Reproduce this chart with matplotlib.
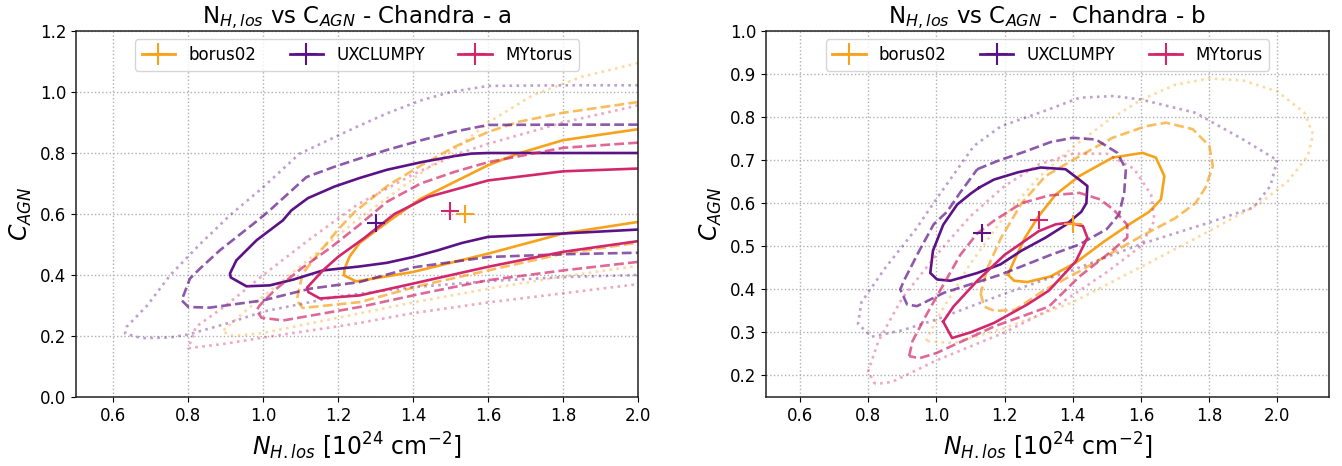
import matplotlib
matplotlib.use("Agg")
import matplotlib.pyplot as plt
from matplotlib.lines import Line2D

# ---------------------------------------------------------------------------
# Model names, colours and best-fit points
# ---------------------------------------------------------------------------
MODELS = ["borus02", "UXCLUMPY", "MYtorus"]
COLORS = {"borus02": "#F7A21B", "UXCLUMPY": "#5C1287", "MYtorus": "#D2286B"}

BEST_A = {"borus02": (1.537, 0.600), "UXCLUMPY": (1.300, 0.570), "MYtorus": (1.497, 0.610)}
BEST_B = {"borus02": (1.400, 0.552), "UXCLUMPY": (1.135, 0.530), "MYtorus": (1.300, 0.560)}

# ---------------------------------------------------------------------------
# Confidence contours (N_H,los, C_AGN), panel a: 1, 2, 3 sigma
# ---------------------------------------------------------------------------
A_UX_1 = [(2.0, 0.800), (1.8, 0.800), (1.6, 0.800), (1.555, 0.798), (1.511, 0.790),
          (1.422, 0.770), (1.33, 0.745), (1.257, 0.718), (1.19, 0.690), (1.119, 0.652),
          (1.075, 0.612), (1.052, 0.579), (0.982, 0.514), (0.928, 0.448), (0.911, 0.405),
          (0.913, 0.392), (0.955, 0.363), (1.017, 0.366), (1.08, 0.385), (1.159, 0.415),
          (1.257, 0.428), (1.33, 0.440), (1.40, 0.459), (1.466, 0.481), (1.53, 0.505),
          (1.6, 0.525), (1.8, 0.536), (2.0, 0.549)]
A_UX_2 = [(2.0, 0.893), (1.8, 0.893), (1.6, 0.892), (1.51, 0.870), (1.422, 0.842),
          (1.33, 0.810), (1.257, 0.782), (1.19, 0.755), (1.115, 0.721), (1.017, 0.612),
          (0.985, 0.579), (0.884, 0.481), (0.83, 0.420), (0.804, 0.388), (0.782, 0.317),
          (0.80, 0.295), (0.857, 0.293), (1.0, 0.317), (1.124, 0.355), (1.257, 0.377),
          (1.4, 0.425), (1.6, 0.459), (1.8, 0.468), (2.0, 0.473)]
A_UX_3 = [(2.0, 1.022), (1.8, 1.022), (1.6, 1.020), (1.5, 1.000), (1.422, 0.973),
          (1.33, 0.930), (1.248, 0.885), (1.17, 0.840), (1.097, 0.798), (0.995, 0.683),
          (0.911, 0.596), (0.83, 0.500), (0.751, 0.399), (0.69, 0.300), (0.635, 0.230),
          (0.631, 0.208), (0.675, 0.193), (0.75, 0.195), (0.80, 0.205), (0.90, 0.240),
          (1.0, 0.280), (1.2, 0.330), (1.4, 0.360), (1.6, 0.380), (1.8, 0.393), (2.0, 0.400)]

A_BO_1 = [(2.0, 0.878), (1.8, 0.842), (1.68, 0.798), (1.6, 0.760), (1.51, 0.705),
          (1.42, 0.650), (1.35, 0.590), (1.30, 0.545), (1.257, 0.505), (1.23, 0.460),
          (1.217, 0.421), (1.215, 0.399), (1.248, 0.379), (1.4, 0.410), (1.6, 0.470),
          (1.8, 0.536), (2.0, 0.574)]
A_BO_2 = [(2.0, 0.967), (1.8, 0.932), (1.68, 0.902), (1.6, 0.869), (1.51, 0.820),
          (1.422, 0.760), (1.333, 0.694), (1.244, 0.607), (1.20, 0.550), (1.15, 0.475),
          (1.105, 0.405), (1.089, 0.317), (1.105, 0.292), (1.257, 0.311), (1.422, 0.366),
          (1.6, 0.415), (1.8, 0.470), (2.0, 0.506)]
A_BO_3 = [(2.0, 1.095), (1.85, 1.050), (1.72, 0.990), (1.6, 0.900), (1.53, 0.830),
          (1.45, 0.760), (1.35, 0.670), (1.25, 0.580), (1.15, 0.480), (1.05, 0.380),
          (0.95, 0.280), (0.89, 0.215), (0.92, 0.200), (1.0, 0.210), (1.2, 0.260),
          (1.4, 0.310), (1.6, 0.355), (1.8, 0.395), (2.0, 0.430)]

A_MY_1 = [(2.0, 0.749), (1.8, 0.740), (1.6, 0.710), (1.44, 0.656), (1.35, 0.600),
          (1.268, 0.520), (1.2, 0.460), (1.159, 0.415), (1.117, 0.359), (1.12, 0.344),
          (1.151, 0.323), (1.257, 0.333), (1.4, 0.372), (1.6, 0.427), (1.8, 0.476),
          (2.0, 0.511)]
A_MY_2 = [(2.0, 0.834), (1.8, 0.817), (1.6, 0.770), (1.51, 0.738), (1.42, 0.700),
          (1.33, 0.640), (1.257, 0.565), (1.18, 0.490), (1.10, 0.420), (1.03, 0.350),
          (0.99, 0.300), (0.982, 0.284), (0.995, 0.260), (1.053, 0.251), (1.257, 0.295),
          (1.422, 0.339), (1.6, 0.383), (1.8, 0.415), (2.0, 0.443)]
A_MY_3 = [(2.0, 0.956), (1.8, 0.900), (1.6, 0.830), (1.52, 0.798), (1.4, 0.730),
          (1.25, 0.630), (1.12, 0.514), (1.0, 0.400), (0.9, 0.300), (0.82, 0.230),
          (0.80, 0.160), (0.9, 0.175), (1.0, 0.195), (1.244, 0.240), (1.4, 0.275),
          (1.6, 0.310), (1.8, 0.340), (2.0, 0.370)]

# ---------------------------------------------------------------------------
# Confidence contours, panel b (closed)
# ---------------------------------------------------------------------------
B_UX_1 = [(1.125, 0.636), (1.169, 0.655), (1.24, 0.672), (1.306, 0.683), (1.379, 0.679),
          (1.419, 0.655), (1.443, 0.640), (1.440, 0.600), (1.425, 0.580), (1.38, 0.550),
          (1.32, 0.520), (1.25, 0.490), (1.188, 0.458), (1.12, 0.438), (1.041, 0.420),
          (1.002, 0.423), (0.982, 0.438), (0.99, 0.490), (1.02, 0.550), (1.061, 0.597),
          (1.10, 0.622), (1.125, 0.636)]
B_UX_2 = [(1.12, 0.679), (1.179, 0.698), (1.26, 0.720), (1.335, 0.742), (1.40, 0.752),
          (1.468, 0.748), (1.531, 0.717), (1.556, 0.679), (1.551, 0.624), (1.536, 0.574),
          (1.50, 0.540), (1.419, 0.504), (1.335, 0.480), (1.188, 0.434), (1.022, 0.392),
          (0.943, 0.361), (0.914, 0.365), (0.894, 0.400), (0.904, 0.419), (0.95, 0.490),
          (0.992, 0.551), (1.031, 0.580), (1.07, 0.625), (1.12, 0.679)]
B_UX_3 = [(2.0, 0.700), (1.98, 0.640), (1.93, 0.590), (1.8, 0.555), (1.6, 0.505),
          (1.4, 0.445), (1.2, 0.390), (1.0, 0.330), (0.9, 0.305), (0.81, 0.290),
          (0.77, 0.320), (0.78, 0.370), (0.85, 0.450), (0.94, 0.540), (1.0, 0.610),
          (1.11, 0.733), (1.19, 0.779), (1.33, 0.818), (1.42, 0.845), (1.52, 0.849),
          (1.60, 0.841), (1.76, 0.810), (1.90, 0.748), (2.0, 0.700)]

B_BO_1 = [(1.21, 0.434), (1.228, 0.420), (1.267, 0.417), (1.335, 0.430), (1.409, 0.462),
          (1.49, 0.510), (1.566, 0.551), (1.624, 0.580), (1.659, 0.609), (1.669, 0.663),
          (1.644, 0.706), (1.605, 0.717), (1.517, 0.706), (1.419, 0.663), (1.35, 0.620),
          (1.30, 0.570), (1.26, 0.520), (1.23, 0.470), (1.21, 0.434)]
B_BO_2 = [(1.13, 0.390), (1.14, 0.360), (1.17, 0.350), (1.23, 0.352), (1.32, 0.400),
          (1.42, 0.442), (1.6, 0.523), (1.70, 0.565), (1.76, 0.600), (1.79, 0.637),
          (1.811, 0.686), (1.801, 0.733), (1.752, 0.772), (1.674, 0.787), (1.615, 0.779),
          (1.517, 0.752), (1.419, 0.709), (1.32, 0.663), (1.25, 0.600), (1.19, 0.520),
          (1.15, 0.450), (1.13, 0.390)]
B_BO_3 = [(0.97, 0.280), (1.0, 0.330), (1.1, 0.460), (1.2, 0.570), (1.3, 0.660),
          (1.4, 0.730), (1.5, 0.790), (1.6, 0.840), (1.7, 0.875), (1.8, 0.890),
          (1.9, 0.885), (2.0, 0.860), (2.08, 0.810), (2.105, 0.760), (2.09, 0.710),
          (2.03, 0.650), (1.95, 0.600), (1.8, 0.535), (1.615, 0.458), (1.4, 0.370),
          (1.2, 0.310), (1.05, 0.275), (0.97, 0.280)]

B_MY_1 = [(1.02, 0.325), (1.046, 0.287), (1.10, 0.300), (1.169, 0.322), (1.267, 0.365),
          (1.33, 0.397), (1.409, 0.465), (1.443, 0.520), (1.43, 0.547), (1.389, 0.555),
          (1.35, 0.551), (1.30, 0.535), (1.20, 0.480), (1.12, 0.420), (1.05, 0.360),
          (1.02, 0.325)]
B_MY_2 = [(0.92, 0.245), (0.93, 0.280), (0.97, 0.340), (1.02, 0.410), (1.07, 0.480),
          (1.12, 0.530), (1.17, 0.560), (1.25, 0.600), (1.33, 0.618), (1.42, 0.624),
          (1.48, 0.609), (1.52, 0.585), (1.56, 0.550), (1.56, 0.520), (1.50, 0.480),
          (1.42, 0.430), (1.33, 0.360), (1.17, 0.314), (1.0, 0.252), (0.95, 0.240),
          (0.92, 0.245)]
B_MY_3 = [(0.82, 0.180), (0.80, 0.210), (0.83, 0.280), (0.90, 0.380), (1.0, 0.480),
          (1.1, 0.570), (1.2, 0.640), (1.3, 0.690), (1.4, 0.715), (1.5, 0.715),
          (1.58, 0.680), (1.63, 0.620), (1.64, 0.560), (1.60, 0.500), (1.50, 0.440),
          (1.35, 0.360), (1.2, 0.300), (1.0, 0.235), (0.87, 0.185), (0.82, 0.180)]

PANEL_A = {"borus02": [A_BO_1, A_BO_2, A_BO_3],
           "UXCLUMPY": [A_UX_1, A_UX_2, A_UX_3],
           "MYtorus": [A_MY_1, A_MY_2, A_MY_3]}
PANEL_B = {"borus02": [B_BO_1, B_BO_2, B_BO_3],
           "UXCLUMPY": [B_UX_1, B_UX_2, B_UX_3],
           "MYtorus": [B_MY_1, B_MY_2, B_MY_3]}

LEVEL_STYLES = [("-", 1.0), ("--", 0.7), (":", 0.4)]

X_TICKS = [0.6, 0.8, 1.0, 1.2, 1.4, 1.6, 1.8, 2.0]
Y_TICKS_A = [0.0, 0.2, 0.4, 0.6, 0.8, 1.0, 1.2]
Y_TICKS_B = [0.2, 0.3, 0.4, 0.5, 0.6, 0.7, 0.8, 0.9, 1.0]

TITLE_A = r"N$_{H, los}$ vs C$_{AGN}$ - Chandra - a"
TITLE_B = r"N$_{H, los}$ vs C$_{AGN}$ -  Chandra - b"
XLABEL = r"$N_{H. los}$ [10$^{24}$ cm$^{-2}$]"
YLABEL = r"$C_{AGN}$"

plt.rcParams["font.family"] = ["DejaVu Sans"]


def draw_panel(ax, contours, best, xlim, ylim, yticks, title):
    for name in MODELS:
        col = COLORS[name]
        for path, (ls, alpha) in zip(contours[name], LEVEL_STYLES):
            xs = [p[0] for p in path]
            ys = [p[1] for p in path]
            ax.plot(xs, ys, color=col, ls=ls, lw=1.9, alpha=alpha, zorder=2)
        bx, by = best[name]
        ax.plot([bx], [by], marker="+", ls="none", color=col, ms=13, mew=1.5, zorder=3)

    ax.set_xlim(*xlim)
    ax.set_ylim(*ylim)
    ax.set_xticks(X_TICKS)
    ax.set_yticks(yticks)
    ax.grid(True, ls=":", color="#b0b0b0", lw=1.0)
    ax.set_axisbelow(True)
    ax.tick_params(labelsize=12)
    for sp in ax.spines.values():
        sp.set_color("#222222")
        sp.set_linewidth(1.1)
    ax.set_title(title, fontsize=16.5)
    ax.set_xlabel(XLABEL, fontsize=17)
    ax.set_ylabel(YLABEL, fontsize=17)

    handles = [Line2D([], [], color=COLORS[m], marker="+", ms=16, mew=1.5, lw=2)
               for m in MODELS]
    ax.legend(handles, MODELS, loc="upper center", ncol=3, fontsize=12, numpoints=1)


fig = plt.figure(figsize=(13.42, 4.66), dpi=100)
ax_a = fig.add_axes([76 / 1342, 69 / 466, 562 / 1342, 366 / 466])
ax_b = fig.add_axes([766 / 1342, 69 / 466, 563 / 1342, 366 / 466])

draw_panel(ax_a, PANEL_A, BEST_A, (0.5, 2.0), (0.0, 1.2), Y_TICKS_A, TITLE_A)
draw_panel(ax_b, PANEL_B, BEST_B, (0.5, 2.152), (0.15, 1.0), Y_TICKS_B, TITLE_B)

fig.savefig("out.png", dpi=100)
